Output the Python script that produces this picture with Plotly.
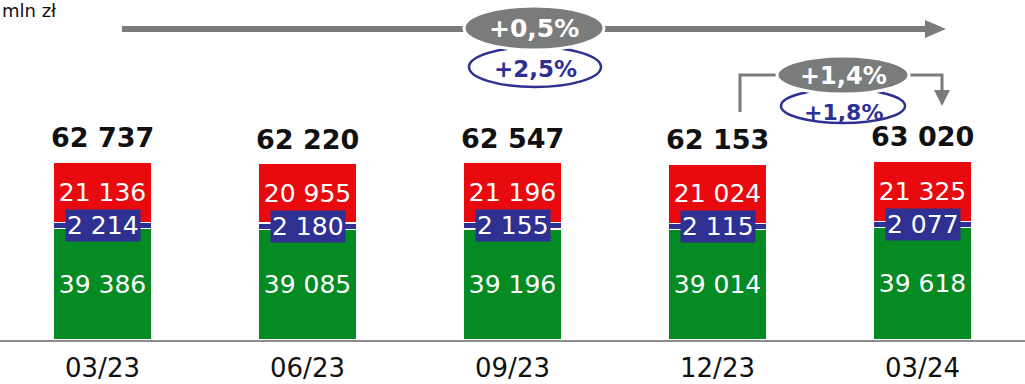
import plotly.graph_objects as go

categories = ["03/23", "06/23", "09/23", "12/23", "03/24"]
green_vals = [39386, 39085, 39196, 39014, 39618]
navy_vals = [2214, 2180, 2155, 2115, 2077]
red_vals = [21136, 20955, 21196, 21024, 21325]
totals = [62737, 62220, 62547, 62153, 63020]
growth_year = ["+0,5%", "+2,5%"]
growth_q = ["+1,4%", "+1,8%"]

GREEN = "#048B24"
NAVY = "#2E3192"
RED = "#E80A0E"
GRAY = "#7A7C7C"
FONT = "DejaVu Sans"

def fmt(v):
    return f"{v:,}".replace(",", " ")

x_idx = list(range(len(categories)))
fig = go.Figure()
for vals, col in [(green_vals, GREEN), (navy_vals, NAVY), (red_vals, RED)]:
    show_text = col != NAVY
    fig.add_trace(go.Bar(
        x=x_idx, y=vals, marker=dict(color=col, line=dict(color="white", width=1.2)),
        text=[fmt(v) for v in vals] if show_text else None,
        textposition="inside" if show_text else "none",
        insidetextanchor="middle",
        textfont=dict(color="white", size=25, family=FONT),
        hoverinfo="skip", width=0.475,
    ))

annotations = []
for i in x_idx:
    annotations.append(dict(
        x=i, y=green_vals[i] + navy_vals[i] / 2, xref="x", yref="y",
        text=fmt(navy_vals[i]), showarrow=False, bgcolor=NAVY, borderpad=1,
        font=dict(color="white", size=25, family=FONT),
    ))
    annotations.append(dict(
        x=i, y=totals[i], xref="x", yref="y", yanchor="bottom", yshift=7,
        text=f"<b>{fmt(totals[i])}</b>", showarrow=False,
        font=dict(color="#111111", size=27, family=FONT),
    ))

H = 340.0
def py(px):
    return (H - px) / H

def px2x(px):
    return px / 205.0 - 0.5

shapes = []
shapes.append(dict(type="line", xref="x", yref="paper", x0=px2x(122), x1=px2x(930),
                   y0=py(29), y1=py(29), line=dict(color=GRAY, width=6), layer="below"))
shapes.append(dict(type="path", xref="paper", yref="paper", layer="below",
                   path=f"M {925/1025} {py(20)} L {946/1025} {py(29)} L {925/1025} {py(38)} Z",
                   fillcolor=GRAY, line=dict(width=0)))
shapes.append(dict(type="path", xref="paper", yref="paper", layer="below",
                   path=f"M {740/1025} {py(112)} L {740/1025} {py(75)} L {942/1025} {py(75)} L {942/1025} {py(92)}",
                   line=dict(color=GRAY, width=3)))
shapes.append(dict(type="path", xref="paper", yref="paper", layer="below",
                   path=f"M {934/1025} {py(90)} L {950/1025} {py(90)} L {942/1025} {py(106)} Z",
                   fillcolor=GRAY, line=dict(width=0)))

def ellipse(cx, cy, w, h, fill, line_col, lw):
    return dict(type="circle", xref="paper", yref="paper", layer="below",
                x0=(cx - w / 2) / 1025, x1=(cx + w / 2) / 1025,
                y0=py(cy + h / 2), y1=py(cy - h / 2),
                fillcolor=fill, line=dict(color=line_col, width=lw))

shapes.append(ellipse(535, 67, 132, 40, "white", NAVY, 2.5))
shapes.append(ellipse(534, 28, 140, 44, GRAY, "white", 3))
shapes.append(ellipse(843, 106, 124, 34, "white", NAVY, 2.5))
shapes.append(ellipse(843, 75, 132, 38, GRAY, "white", 3))

def lab(cx, cy, text, color, size):
    return dict(x=cx / 1025, y=py(cy), xref="paper", yref="paper", showarrow=False,
                xanchor="center", yanchor="middle",
                text=f"<b>{text}</b>", font=dict(color=color, size=size, family=FONT))

annotations += [
    lab(534, 28, growth_year[0], "white", 25),
    lab(535, 69, growth_year[1], NAVY, 23),
    lab(843, 76, growth_q[0], "white", 24),
    lab(843, 112, growth_q[1], NAVY, 22),
    dict(x=0, y=1.0, xref="paper", yref="paper", xanchor="left", yanchor="top", yshift=2,
         showarrow=False, text="mln zł", font=dict(color="#111111", size=18, family=FONT)),
]

fig.update_layout(
    barmode="stack", width=1025, height=384,
    margin=dict(l=0, r=0, t=0, b=44),
    paper_bgcolor="white", plot_bgcolor="white", showlegend=False,
    xaxis=dict(range=[-0.5, 4.5], tickmode="array", tickvals=x_idx, ticktext=categories,
               showline=True, linecolor="#8C8C8C", linewidth=2, showgrid=False,
               ticks="", ticklabelstandoff=4, automargin=False,
               tickfont=dict(size=26, color="#111111", family=FONT), fixedrange=True),
    yaxis=dict(range=[0, 120000], visible=False, showgrid=False, fixedrange=True),
    shapes=shapes, annotations=annotations,
    uniformtext=dict(minsize=25, mode="show"),
)
fig.write_html("out.html")
